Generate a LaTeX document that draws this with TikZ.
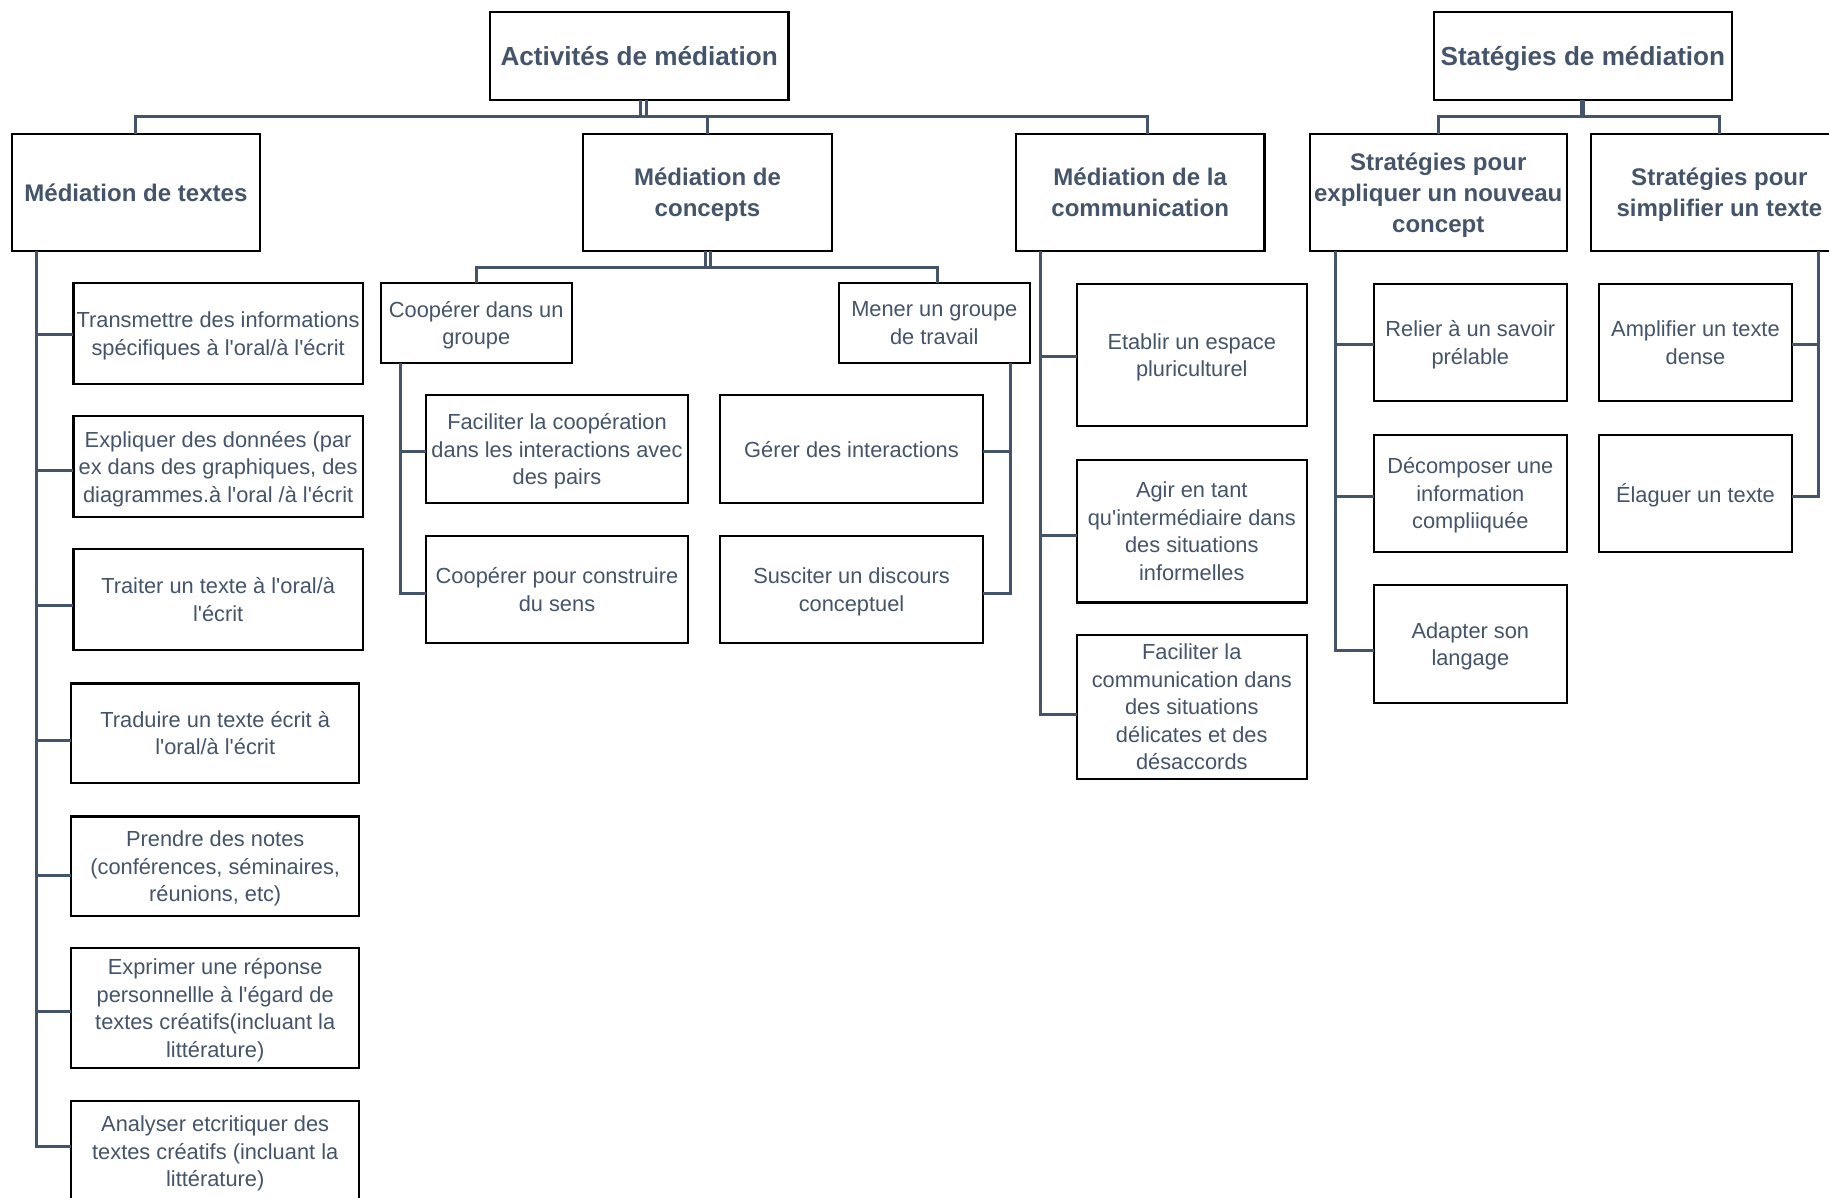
\documentclass[tikz,border=0pt]{standalone}
\usepackage{fontspec}
\newfontfamily\arialf{Liberation Sans}
\definecolor{txt}{HTML}{44546A}
\definecolor{lc}{HTML}{44546A}
\begin{document}
\begin{tikzpicture}[x=0.5pt,y=-0.5pt,
  box/.style={draw=black, line width=0.9pt, inner sep=0pt, outer sep=0pt, align=center, text=txt,
    text depth=0pt, font=\arialf\fontsize{9.35}{11.8}\selectfont},
  head/.style={box, font=\arialf\bfseries\fontsize{10.3}{13.25}\selectfont},
  topbox/.style={box, font=\arialf\bfseries\fontsize{11.2}{13.5}\selectfont},
  sz/.style 2 args={minimum width=#1*0.5pt, minimum height=#2*0.5pt},
  conn/.style={draw=lc, line width=1.3pt}]
\useasboundingbox (0,0) rectangle (1568,1027);
\clip (0,0) rectangle (1568,1027);
\fill[white] (0,0) rectangle (1568,1027);

% top level
\node[topbox, sz={256}{76}] (act) at (548,48) {Activités de médiation};
\node[topbox, sz={256}{76}] (sta) at (1357,48) {Statégies de médiation};

% second level
\node[head, sz={213}{100}] (mt) at (116.5,165) {Médiation de textes};
\node[head, sz={213}{100}] (mc) at (606.5,165) {Médiation de\\concepts};
\node[head, sz={213}{100}] (mcom) at (977.5,165) {Médiation de la\\communication};
\node[head, sz={220}{100}] (se) at (1233,165) {Stratégies pour\\expliquer un nouveau\\concept};
\node[head, sz={220}{100}] (ss) at (1474,165) {Stratégies pour\\simplifier un texte};

% left column
\node[box, sz={248}{86}] (t1) at (187,286) {Transmettre des informations\\spécifiques à l'oral/à l'écrit};
\node[box, sz={248}{86}] (t2) at (187,400) {Expliquer des données (par\\ex dans des graphiques, des\\diagrammes.à l'oral /à l'écrit};
\node[box, sz={248}{86}] (t3) at (187,514) {Traiter un texte à l'oral/à\\l'écrit};
\node[box, sz={247}{85}] (t4) at (184.5,628.5) {Traduire un texte écrit à\\l'oral/à l'écrit};
\node[box, sz={247}{85}] (t5) at (184.5,742.5) {Prendre des notes\\(conférences, séminaires,\\réunions, etc)};
\node[box, sz={247}{102.6}] (t6) at (184.5,864.3) {Exprimer une réponse\\personnellle à l'égard de\\textes créatifs(incluant la\\littérature)};
\node[box, sz={247}{86}] (t7) at (184.5,987) {Analyser etcritiquer des\\textes créatifs (incluant la\\littérature)};

% concepts
\node[box, sz={163.5}{68.3}] (cg) at (408.25,276.85) {Coopérer dans un\\groupe};
\node[box, sz={164}{68.3}] (mg) at (801,276.85) {Mener un groupe\\de travail};
\node[box, sz={225}{92.4}] (fc) at (477.5,385.2) {Faciliter la coopération\\dans les interactions avec\\des pairs};
\node[box, sz={225}{91.9}] (cc) at (477.5,505.45) {Coopérer pour construire\\du sens};
\node[box, sz={224.8}{92.4}] (gi) at (730,385.2) {Gérer des interactions};
\node[box, sz={224.8}{91.9}] (sd) at (730,505.45) {Susciter un discours\\conceptuel};

% communication
\node[box, sz={197}{122.4}] (ec) at (1021.7,304.3) {Etablir un espace\\pluriculturel};
\node[box, sz={197}{122.5}] (ag) at (1021.7,455.25) {Agir en tant\\qu'intermédiaire dans\\des situations\\informelles};
\node[box, sz={197}{122.8}] (fcom) at (1021.7,606.1) {Faciliter la\\communication dans\\des situations\\délicates et des\\désaccords};

% strategies
\node[box, sz={165}{101}] (rs) at (1260.5,293.6) {Relier à un savoir\\prélable};
\node[box, sz={165}{100.6}] (di) at (1260.5,422.9) {Décomposer une\\information\\compliiquée};
\node[box, sz={165}{100.8}] (as) at (1260.5,552.2) {Adapter son\\langage};
\node[box, sz={165}{101}] (am) at (1453.5,293.6) {Amplifier un texte\\dense};
\node[box, sz={165}{100.6}] (el) at (1453.5,422.9) {Élaguer un texte};

% connectors: top 1
\draw[conn] ([xshift=0.5pt]act.south) -- ++(0,14);
\draw[conn] ([xshift=3pt]act.south) -- ++(0,14);
\draw[conn] (mt.north) -- ++(0,-15) -| ([xshift=3.25pt]mcom.north);
\draw[conn] (mc.north) -- ++(0,-15);

% top 2
\draw[conn, line width=2.2pt] (sta.south) -- ++(0,14);
\draw[conn] (se.north) -- ++(0,-15) -| (ss.north);

% left trunk
\coordinate (mtT) at ([xshift=10.5pt]mt.south west);
\draw[conn] (mtT) |- ([yshift=-0.5pt]t1.west);
\draw[conn] (mtT) |- ([yshift=-1.75pt]t2.west);
\draw[conn] (mtT) |- ([yshift=-2.5pt]t3.west);
\draw[conn] (mtT) |- ([yshift=-3pt]t4.west);
\draw[conn] (mtT) |- ([yshift=-4pt]t5.west);
\draw[conn] (mtT) |- ([yshift=-1.35pt]t6.west);
\draw[conn] (mtT) |- ([yshift=2.25pt]t7.west);

% concepts
\draw[conn] ([xshift=-0.75pt]mc.south) -- ++(0,14);
\draw[conn] ([xshift=1.25pt]mc.south) -- ++(0,14);
\draw[conn] (cg.north) -- ++(0,-13.7) -| ([xshift=1.5pt]mg.north);
\coordinate (cgT) at ([xshift=8.25pt]cg.south west);
\draw[conn] (cgT) |- ([yshift=-0.75pt]fc.west);
\draw[conn] (cgT) |- ([yshift=-1.6pt]cc.west);
\coordinate (mgT) at ([xshift=-8.15pt]mg.south east);
\draw[conn] (mgT) |- ([yshift=-0.75pt]gi.east);
\draw[conn] (mgT) |- ([yshift=-1.6pt]sd.east);

% communication
\coordinate (mcomT) at ([xshift=10.35pt]mcom.south west);
\draw[conn] (mcomT) |- ([yshift=-0.8pt]ec.west);
\draw[conn] (mcomT) |- ([yshift=-2pt]ag.west);
\draw[conn] (mcomT) |- ([yshift=-3.1pt]fcom.west);

% strategies
\coordinate (seT) at ([xshift=11pt]se.south west);
\draw[conn] (seT) |- ([yshift=-0.75pt]rs.west);
\draw[conn] (seT) |- ([yshift=-1.55pt]di.west);
\draw[conn] (seT) |- ([yshift=-2.85pt]as.west);
\coordinate (ssT) at ([xshift=-12.4pt]ss.south east);
\draw[conn] (ssT) |- ([yshift=-0.75pt]am.east);
\draw[conn] (ssT) |- ([yshift=-1.55pt]el.east);
\end{tikzpicture}
\end{document}
